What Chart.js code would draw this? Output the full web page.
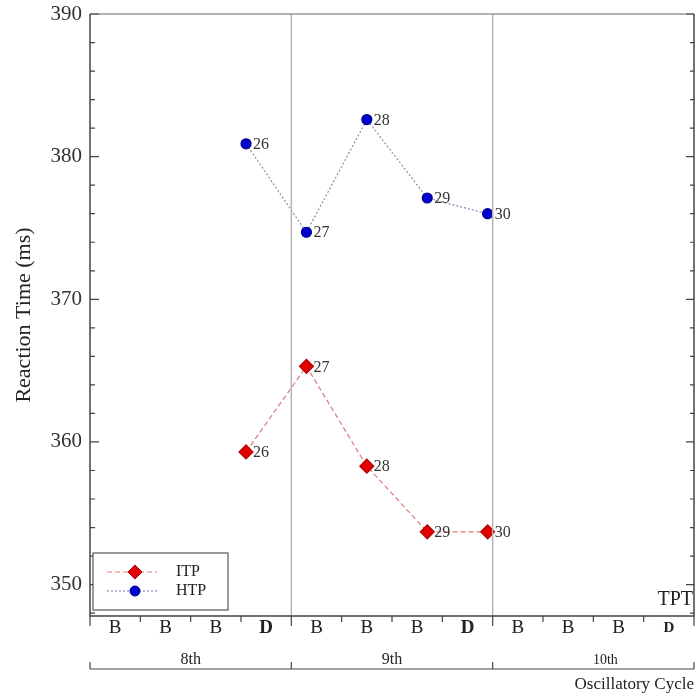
<!DOCTYPE html>
<html>
<head>
<meta charset="utf-8">
<script src="https://cdn.jsdelivr.net/npm/chart.js@4.4.1/dist/chart.umd.min.js"></script>
<style>
  body { margin: 0; background: #fff; }
  #wrap { width: 697px; height: 695px; }
</style>
</head>
<body>
<div id="wrap"><canvas id="myChart"></canvas></div>
<script>
const trialLabels = ['26', '27', '28', '29', '30'];
const trialX = [3.1, 4.3, 5.5, 6.7, 7.9];
const itpValues = [359.3, 365.3, 358.3, 353.7, 353.7];
const htpValues = [380.9, 374.7, 382.6, 377.1, 376.0];
const slotLabels = ['B', 'B', 'B', 'D', 'B', 'B', 'B', 'D', 'B', 'B', 'B', 'D'];
const cycleLabels = ['8th', '9th', '10th'];
const yTicks = [350, 360, 370, 380, 390];

const SERIF = '"Liberation Serif", "DejaVu Serif", serif';

const toPoints = vals => vals.map((v, i) => ({ x: trialX[i], y: v }));

// axes frame, inward ticks, category rows, legend and point labels
const decor = {
  id: 'decor',
  afterDatasetsDraw(chart) {
    const { ctx, chartArea: a, scales: { x, y } } = chart;
    ctx.save();

    // cycle separators
    ctx.strokeStyle = '#b4b4b4';
    ctx.lineWidth = 1.5;
    [4, 8].forEach(v => {
      const px = x.getPixelForValue(v);
      ctx.beginPath(); ctx.moveTo(px, a.top); ctx.lineTo(px, a.bottom); ctx.stroke();
    });

    // frame
    ctx.strokeStyle = '#999';
    ctx.lineWidth = 1.5;
    ctx.beginPath(); ctx.moveTo(a.left, a.top); ctx.lineTo(a.right, a.top); ctx.stroke();
    ctx.strokeStyle = '#444';
    ctx.beginPath();
    ctx.moveTo(a.left, a.top); ctx.lineTo(a.left, a.bottom); ctx.lineTo(a.right, a.bottom); ctx.lineTo(a.right, a.top);
    ctx.stroke();

    // y ticks (major + minor), both sides, inward
    ctx.lineWidth = 1.2;
    for (let v = 348; v <= 390; v += 2) {
      const py = y.getPixelForValue(v);
      const major = yTicks.includes(v);
      ctx.beginPath();
      ctx.moveTo(a.left, py); ctx.lineTo(a.left + (major ? 9 : 5), py);
      ctx.moveTo(a.right, py); ctx.lineTo(a.right - (major ? 8 : 4), py);
      ctx.stroke();
    }

    // x slot ticks
    for (let i = 0; i <= slotLabels.length; i++) {
      const px = x.getPixelForValue(i);
      ctx.beginPath();
      ctx.moveTo(px, a.bottom); ctx.lineTo(px, a.bottom + (i % 4 === 0 ? 10 : 6));
      ctx.stroke();
    }

    // slot labels
    ctx.fillStyle = '#222';
    ctx.textAlign = 'center';
    ctx.textBaseline = 'middle';
    slotLabels.forEach((s, i) => {
      const px = x.getPixelForValue(i + 0.5);
      const last = i === slotLabels.length - 1;
      ctx.font = (s === 'D' ? 'bold ' : '') + (last ? '15px ' : '19px ') + SERIF;
      ctx.fillText(s, px, a.bottom + 12);
    });

    // cycle row
    const rowY = a.bottom + 53;
    ctx.beginPath(); ctx.moveTo(a.left, rowY); ctx.lineTo(a.right, rowY); ctx.stroke();
    for (let g = 0; g <= cycleLabels.length; g++) {
      const px = x.getPixelForValue(g * 4);
      ctx.beginPath(); ctx.moveTo(px, rowY); ctx.lineTo(px, rowY - 7); ctx.stroke();
    }
    cycleLabels.forEach((c, g) => {
      ctx.font = (g === 2 ? '14px ' : '16px ') + SERIF;
      ctx.fillText(c, x.getPixelForValue(g * 4 + 2) + (g === 2 ? 12 : 0), rowY - 9);
    });

    ctx.textAlign = 'right';
    ctx.font = '17px ' + SERIF;
    ctx.fillText('Oscillatory Cycle', a.right, rowY + 16);
    ctx.font = '20px ' + SERIF;
    ctx.fillText('TPT', a.right - 1, a.bottom - 16);

    // point labels
    ctx.textAlign = 'left';
    ctx.font = '16px ' + SERIF;
    ctx.fillStyle = '#333';
    chart.data.datasets.forEach((ds, di) => {
      chart.getDatasetMeta(di).data.forEach((pt, i) => {
        ctx.fillText(trialLabels[i], pt.x + 7, pt.y + 1);
      });
    });

    // legend box
    const lx = a.left + 3, ly = a.bottom - 63, lw = 135, lh = 57;
    ctx.fillStyle = '#fff';
    ctx.fillRect(lx, ly, lw, lh);
    ctx.strokeStyle = '#555';
    ctx.lineWidth = 1.2;
    ctx.strokeRect(lx, ly, lw, lh);
    chart.data.datasets.forEach((ds, di) => {
      const cy = ly + 19 + di * 19;
      ctx.strokeStyle = ds.borderColor;
      ctx.lineWidth = ds.borderWidth;
      ctx.setLineDash(ds.borderDash);
      ctx.beginPath(); ctx.moveTo(lx + 14, cy); ctx.lineTo(lx + 64, cy); ctx.stroke();
      ctx.setLineDash([]);
      ctx.fillStyle = ds.pointBackgroundColor;
      ctx.strokeStyle = ds.pointBorderColor;
      ctx.lineWidth = 1;
      Chart.helpers.drawPoint(ctx, { pointStyle: ds.pointStyle, radius: ds.pointRadius, borderWidth: 1 }, lx + 42, cy);
      ctx.fillStyle = '#222';
      ctx.font = '16px ' + SERIF;
      ctx.fillText(ds.label, lx + 83, cy);
    });

    ctx.restore();
  }
};

const ctx = document.getElementById('myChart').getContext('2d');

new Chart(ctx, {
  type: 'scatter',
  data: {
    datasets: [{
      label: 'ITP',
      data: toPoints(itpValues),
      showLine: true,
      borderColor: '#e07878',
      borderWidth: 1.2,
      borderDash: [5, 3],
      pointStyle: 'rectRot',
      pointRadius: 7,
      pointHoverRadius: 7,
      pointBackgroundColor: '#e30000',
      pointBorderColor: '#b00000'
    }, {
      label: 'HTP',
      data: toPoints(htpValues),
      showLine: true,
      borderColor: '#8c8cb4',
      borderWidth: 1.2,
      borderDash: [2, 2],
      pointStyle: 'circle',
      pointRadius: 5,
      pointHoverRadius: 5,
      pointBackgroundColor: '#0000d0',
      pointBorderColor: '#00008a'
    }]
  },
  options: {
    responsive: true,
    maintainAspectRatio: false,
    animation: false,
    layout: { autoPadding: false, padding: { top: 14, right: 3, left: 0, bottom: 0 } },
    plugins: {
      legend: { display: false },
      tooltip: { enabled: false }
    },
    scales: {
      x: {
        type: 'linear',
        min: 0,
        max: 12,
        ticks: { display: false },
        grid: { display: false, drawTicks: false },
        border: { display: false },
        afterFit: s => { s.height = 79; s.paddingLeft = 0; s.paddingRight = 0; }
      },
      y: {
        min: 347.8,
        max: 390,
        grid: { display: false, drawTicks: false },
        border: { display: false },
        ticks: {
          stepSize: 10,
          includeBounds: false,
          padding: 8,
          color: '#333',
          font: { family: SERIF, size: 21 }
        },
        title: {
          display: true,
          text: 'Reaction Time (ms)',
          color: '#222',
          font: { family: SERIF, size: 22 },
          padding: { top: 11, bottom: 0 }
        },
        afterFit: s => { s.width = 90; s.paddingTop = 0; s.paddingBottom = 0; }
      }
    }
  },
  plugins: [decor]
});
</script>
</body>
</html>
